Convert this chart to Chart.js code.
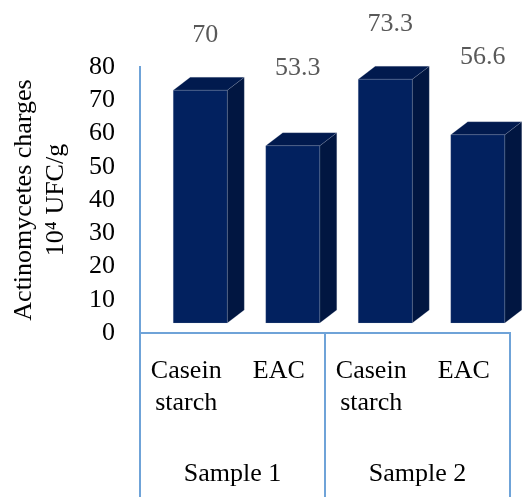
<!DOCTYPE html>
<html>
<head>
<meta charset="utf-8">
<script src="https://cdn.jsdelivr.net/npm/chart.js@4.4.1/dist/chart.umd.min.js"></script>
<style>
  html, body { margin: 0; padding: 0; background: #ffffff; }
  #wrap { width: 522px; height: 497px; }
</style>
</head>
<body>
<div id="wrap"><canvas id="chart" width="522" height="497"></canvas></div>
<script>
// Actinomycetes counts per medium, grouped by sample
const mediaLabels = [['Casein', 'starch'], 'EAC', ['Casein', 'starch'], 'EAC'];
const sampleLabels = ['Sample 1', 'Sample 2'];
const counts = [70, 53.3, 73.3, 56.6];
const yTicks = [0, 10, 20, 30, 40, 50, 60, 70, 80];

const FONT = "'Liberation Serif', 'Times New Roman', serif";
const AXIS_BLUE = '#6fa3d8';

// Oblique projection used for the 3D columns
const SHIFT_X = 14;   // front face shift to the right of the category centre
const LIFT = 10;      // front face raised above the floor line
const DEPTH_X = 17;
const DEPTH_Y = 13;
const FACE_FRONT = '#02215f';
const FACE_SIDE = '#011641';
const FACE_TOP = '#011a4e';
const LABEL_RISE = [55, 78];

const columns3d = {
  id: 'columns3d',
  afterDatasetsDraw(chart) {
    const ctx = chart.ctx;
    const meta = chart.getDatasetMeta(0);
    const values = chart.data.datasets[0].data;
    ctx.save();
    meta.data.forEach((bar, i) => {
      const p = bar.getProps(['x', 'y', 'base', 'width'], true);
      const cx = p.x + SHIFT_X;
      const l = cx - p.width / 2, r = cx + p.width / 2;
      const t = p.y - LIFT, b = p.base - LIFT;
      ctx.lineWidth = 0.5;
      ctx.strokeStyle = 'rgba(180,185,200,0.35)';
      // side face
      ctx.beginPath();
      ctx.moveTo(r, t);
      ctx.lineTo(r + DEPTH_X, t - DEPTH_Y);
      ctx.lineTo(r + DEPTH_X, b - DEPTH_Y);
      ctx.lineTo(r, b);
      ctx.closePath();
      ctx.fillStyle = FACE_SIDE;
      ctx.fill();
      ctx.stroke();
      // top face
      ctx.beginPath();
      ctx.moveTo(l, t);
      ctx.lineTo(l + DEPTH_X, t - DEPTH_Y);
      ctx.lineTo(r + DEPTH_X, t - DEPTH_Y);
      ctx.lineTo(r, t);
      ctx.closePath();
      ctx.fillStyle = FACE_TOP;
      ctx.fill();
      ctx.stroke();
      // front face
      ctx.beginPath();
      ctx.rect(l, t, p.width, b - t);
      ctx.fillStyle = FACE_FRONT;
      ctx.fill();
      ctx.stroke();
      // value label
      ctx.fillStyle = '#595959';
      ctx.font = '26px ' + FONT;
      ctx.textAlign = 'center';
      ctx.textBaseline = 'middle';
      ctx.fillText(String(values[i]), cx + 5, t - LABEL_RISE[i % 2]);
    });
    ctx.restore();
  }
};

const groupFrame = {
  id: 'groupFrame',
  afterDraw(chart) {
    const ctx = chart.ctx;
    const area = chart.chartArea;
    const g = chart.scales.x2;
    const mid = (g.getPixelForValue(0) + g.getPixelForValue(1)) / 2;
    ctx.save();
    ctx.strokeStyle = AXIS_BLUE;
    ctx.lineWidth = 2;
    [area.left, mid, area.right].forEach(px => {
      ctx.beginPath();
      ctx.moveTo(px, area.bottom);
      ctx.lineTo(px, chart.height);
      ctx.stroke();
    });
    ctx.restore();
  }
};

new Chart(document.getElementById('chart'), {
  type: 'bar',
  data: {
    labels: mediaLabels,
    datasets: [{
      data: counts,
      backgroundColor: 'rgba(0,0,0,0)',
      borderWidth: 0,
      barPercentage: 0.584,
      categoryPercentage: 1
    }]
  },
  options: {
    responsive: false,
    devicePixelRatio: 1,
    animation: false,
    layout: { padding: { top: 67, right: 12, left: 0, bottom: 0 } },
    plugins: {
      legend: { display: false },
      tooltip: { enabled: false },
      title: { display: false }
    },
    scales: {
      x: {
        type: 'category',
        position: 'bottom',
        weight: 0,
        offset: true,
        grid: { display: false, drawTicks: false },
        border: { display: true, color: AXIS_BLUE, width: 2 },
        ticks: {
          autoSkip: false,
          maxRotation: 0,
          minRotation: 0,
          padding: 23,
          color: '#000000',
          font: { family: FONT, size: 26, lineHeight: 1.2 }
        },
        afterFit(scale) { scale.height = 95; }
      },
      x2: {
        type: 'category',
        position: 'bottom',
        weight: 1,
        offset: true,
        labels: sampleLabels,
        grid: { display: false, drawTicks: false },
        border: { display: false },
        ticks: {
          autoSkip: false,
          maxRotation: 0,
          minRotation: 0,
          padding: 31,
          color: '#000000',
          font: { family: FONT, size: 26, lineHeight: 1.2 }
        },
        afterFit(scale) { scale.height = 69; }
      },
      y: {
        min: yTicks[0],
        max: yTicks[yTicks.length - 1],
        afterBuildTicks(scale) { scale.ticks = yTicks.map(v => ({ value: v })); },
        grid: { display: false, drawTicks: false },
        border: { display: true, color: AXIS_BLUE, width: 2 },
        ticks: {
          autoSkip: false,
          padding: 25,
          color: '#000000',
          font: { family: FONT, size: 26, lineHeight: 1 }
        },
        title: {
          display: true,
          text: ['Actinomycetes charges', '10\u2074 UFC/g'],
          color: '#000000',
          font: { family: FONT, size: 26, lineHeight: 1.2 },
          padding: { top: 9, bottom: 0 }
        },
        afterFit(scale) { scale.width = 140; }
      }
    }
  },
  plugins: [columns3d, groupFrame]
});
</script>
</body>
</html>
